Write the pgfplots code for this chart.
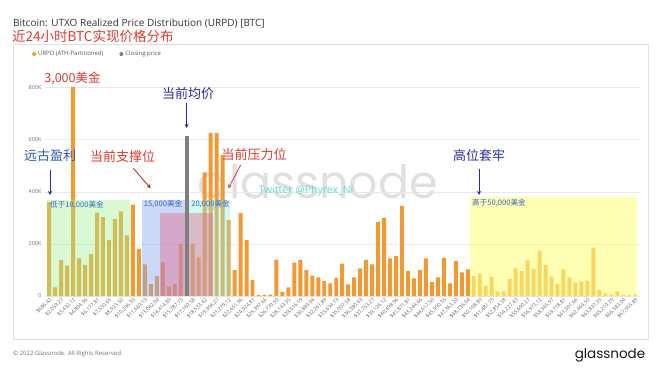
\documentclass[border=0pt]{standalone}
\usepackage{pgfplots}
\usepackage{pgfplotstable}
\pgfplotsset{compat=1.18}
\usepackage{fontspec}
\setmainfont{Open Sans}
\newfontfamily\cjk{Noto Sans CJK SC}
\newfontfamily\logo{Poppins}
\usetikzlibrary{arrows.meta}
\definecolor{barorange}{HTML}{F19A33}
\definecolor{bargrey}{HTML}{7F7F7F}
\definecolor{annred}{HTML}{E23A30}
\definecolor{darkred}{HTML}{B02020}
\definecolor{navy}{HTML}{2B2BA0}
\definecolor{annblue}{HTML}{2D5BB8}
\definecolor{smallblue}{HTML}{3565C8}
\definecolor{twcyan}{HTML}{5ADCD8}
\definecolor{ovgreen}{HTML}{A0F090}
\definecolor{ovblue}{HTML}{8CA8F0}
\definecolor{ovcyan}{HTML}{90F0E0}
\definecolor{ovpink}{HTML}{E07090}
\definecolor{ovyellow}{HTML}{FFFF80}

\pgfplotstableread{
k v
1 360
2 33
3 138
4 117
5 802
6 144
7 119
8 161
9 320
10 303
11 214
12 295
13 325
14 233
15 351
16 181
17 121
18 46
19 76
20 129
21 37
22 46
23 200
25 201
26 148
27 474
28 626
29 626
30 540
31 291
32 99
33 319
34 214
35 61
36 4
37 4
38 5
39 140
40 16
41 33
42 128
43 138
44 99
45 78
46 71
47 57
48 48
49 70
50 124
51 45
52 71
53 106
54 139
55 121
56 284
57 300
58 144
59 153
60 346
61 96
62 68
63 99
64 144
65 53
66 71
67 146
68 48
69 134
70 91
71 102
72 76
73 87
74 40
75 74
76 18
77 18
78 66
79 106
80 95
81 137
82 103
83 174
84 119
85 74
86 46
87 102
88 71
89 51
90 56
91 59
92 186
93 23
94 10
95 5
96 18
97 5
98 5
99 5
}\urpd

\begin{document}
\begin{tikzpicture}[x=1pt,y=1pt]
\path[use as bounding box] (0,0) rectangle (660,372);
% card
\draw[black!12, line width=0.6pt] (13,328) rectangle (648,33);
% watermark
\node[font=\logo\fontsize{46}{50}\selectfont, text=black!12] at (318,184) {glassnode};
% titles
\node[anchor=base west, inner sep=0, font=\fontsize{10}{12}\selectfont, text=black!80] at (13,345) {Bitcoin: UTXO Realized Price Distribution (URPD) [BTC]};
\node[anchor=base west, inner sep=0, font=\cjk\fontsize{13.5}{15}\selectfont, text=annred] at (12,330.5) {近24小时BTC实现价格分布};

\begin{axis}[
  at={(45pt,76pt)}, anchor=south west, scale only axis,
  width=595pt, height=232pt,
  xmin=0.3, xmax=99.8, ymin=0, ymax=890,
  axis line style={draw=none}, major tick length=0pt,
  ymajorgrids, grid style={draw=black!9, line width=0.4pt},
  ytick={0,200,400,600,800}, yticklabels={0,200K,400K,600K,800K},
  yticklabel style={font=\fontsize{5.5}{6}\selectfont, text=black!55},
  xtick={1,3,...,99},
  xticklabels={{\$686.42},{\$2,059.27},{\$3,432.12},{\$4,804.96},{\$6,177.81},{\$7,550.65},{\$8,923.50},{\$10,296.35},{\$11,669.19},{\$13,042.04},{\$14,414.89},{\$15,787.73},{\$17,160.58},{\$18,533.42},{\$19,906.27},{\$21,279.12},{\$22,651.96},{\$24,024.81},{\$25,397.66},{\$26,770.50},{\$28,143.35},{\$29,516.19},{\$30,889.04},{\$32,261.89},{\$33,634.73},{\$35,007.58},{\$36,380.43},{\$37,753.27},{\$39,126.12},{\$40,498.96},{\$41,871.81},{\$43,244.66},{\$44,617.50},{\$45,990.35},{\$47,363.20},{\$48,736.04},{\$50,108.89},{\$51,481.73},{\$52,854.58},{\$54,227.43},{\$55,600.27},{\$56,973.12},{\$58,345.97},{\$59,718.81},{\$61,091.66},{\$62,464.50},{\$63,837.35},{\$65,210.20},{\$66,583.04},{\$67,955.89}},
  xticklabel style={rotate=45, anchor=north east, font=\fontsize{5.2}{6}\selectfont, text=black!60, inner sep=0.8pt},
  legend style={at={(axis description cs:-0.027,1.043)}, anchor=west, draw=none, fill=none,
     font=\fontsize{6}{7}\selectfont, text=black!65, legend columns=2,
     /tikz/every even column/.append style={column sep=14pt}},
  legend cell align=left,
  clip=false,
]
\addplot[ybar, bar width=0.66, bar shift=0pt, fill=barorange, draw=none,
  legend image code/.code={\fill[barorange] (0pt,0pt) circle (2pt);}]
  table[x=k, y=v] {\urpd};
\addlegendentry{URPD (ATH-Partitioned)}
\fill[ovgreen, opacity=0.4] (axis cs:0.57,0) rectangle (axis cs:14.5,370);
\fill[ovblue, opacity=0.45] (axis cs:16.6,0) rectangle (axis cs:24.2,370);
\fill[ovcyan, opacity=0.4] (axis cs:24.2,0) rectangle (axis cs:31.2,370);
\fill[ovpink, opacity=0.45] (axis cs:19.5,0) rectangle (axis cs:28.4,318);
\fill[ovyellow, opacity=0.6] (axis cs:71.35,0) rectangle (axis cs:99.3,378);
\addplot[ybar, bar width=0.66, bar shift=0pt, fill=bargrey, draw=none,
  legend image code/.code={\fill[bargrey] (0pt,0pt) circle (2pt);}]
  coordinates {(24,613)};
\addlegendentry{Closing price}
\end{axis}

% annotations
\node[font=\cjk\fontsize{12.5}{14}\selectfont, text=annred] at (72.5,294) {3,000美金};
\node[font=\cjk\fontsize{13}{15}\selectfont, text=navy] at (188,278) {当前均价};
\draw[navy, line width=0.9pt, -{Stealth[length=4pt,width=4pt]}] (186.7,269) -- (186.7,244);
\node[font=\cjk\fontsize{13}{15}\selectfont, text=annblue] at (50,216) {远古盈利};
\draw[navy, line width=0.9pt, -{Stealth[length=4pt,width=4pt]}] (50,202) -- (50,177);
\node[font=\cjk\fontsize{13}{15}\selectfont, text=annred] at (122.5,215.5) {当前支撑位};
\draw[darkred, line width=0.8pt, -{Stealth[length=4pt,width=4pt]}] (133.3,203.7) -- (150.7,183.7);
\node[font=\cjk\fontsize{13}{15}\selectfont, text=annred] at (254,217) {当前压力位};
\draw[annred, line width=0.8pt, -{Stealth[length=4pt,width=4pt]}] (240.7,207) -- (228.3,183.7);
\node[font=\fontsize{10.5}{12}\selectfont, text=twcyan] at (306,181) {Twitter @Phyrex\_Ni};
\node[font=\cjk\fontsize{13}{15}\selectfont, text=navy] at (479,216) {高位套牢};
\draw[navy, line width=0.9pt, -{Stealth[length=4pt,width=4pt]}] (479,203) -- (479,177);
\node[inner sep=0.5pt, font=\cjk\fontsize{7.6}{9}\selectfont, text=smallblue] at (77,167.5) {低于10,000美金};
\node[inner sep=0.5pt, font=\cjk\fontsize{7.6}{9}\selectfont, text=smallblue] at (163,168) {15,000美金};
\node[inner sep=0.5pt, font=\cjk\fontsize{7.6}{9}\selectfont, text=smallblue] at (210.5,168) {20,000美金};
\node[inner sep=0.5pt, font=\cjk\fontsize{7.6}{9}\selectfont, text=smallblue] at (499,169.5) {高于50,000美金};

% footer
\node[anchor=west, inner sep=0, font=\fontsize{6}{7}\selectfont, text=black!55] at (13,18) {© 2022 Glassnode. All Rights Reserved.};
\node[font=\logo\fontsize{13.5}{15}\selectfont, text=black!90] at (610,17) {glassnode};
\end{tikzpicture}
\end{document}
